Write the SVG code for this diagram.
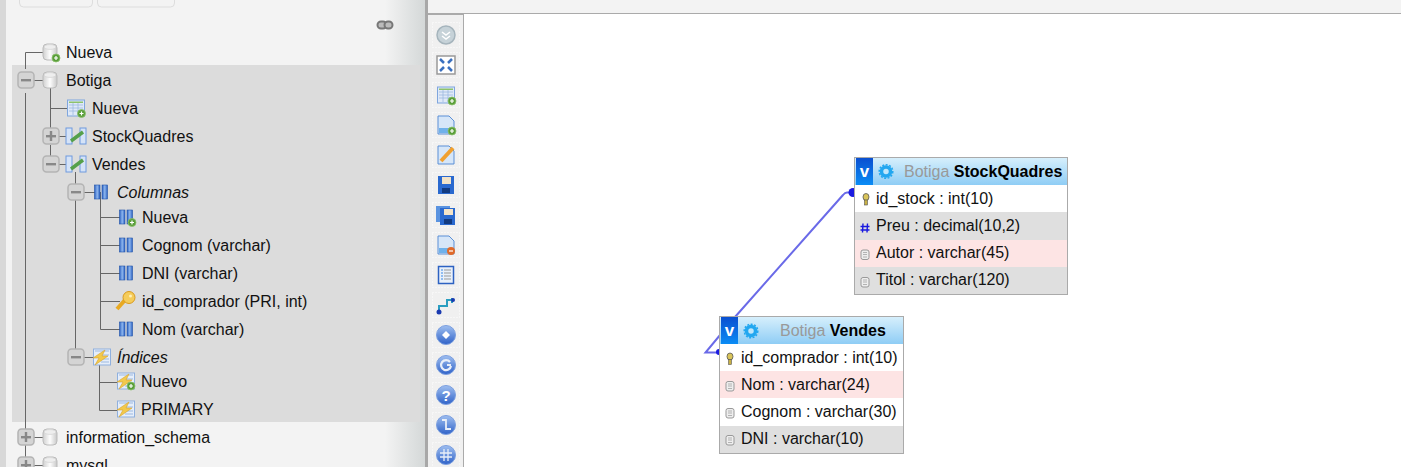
<svg xmlns="http://www.w3.org/2000/svg" width="1401" height="467" viewBox="0 0 1401 467">
<style>
text{font-family:"Liberation Sans",Arial,sans-serif;font-size:16px;fill:#111}
.it{font-style:italic}
.tree{stroke:#666;stroke-width:1;fill:none}
.r{font-size:16px}
.h{font-size:16px;fill:#999}
.b{font-weight:bold;fill:#000}
.tb{fill:none;stroke:#aaa;stroke-width:1}
.conn{stroke:#6a6ae8;stroke-width:2;fill:none}
</style>
<defs>
<linearGradient id="hdr" x1="0" y1="0" x2="0" y2="1"><stop offset="0" stop-color="#d6effc"/><stop offset="1" stop-color="#8fcdf5"/></linearGradient>
<linearGradient id="fade" x1="0" y1="0" x2="1" y2="0"><stop offset="0" stop-color="#f3f3f3"/><stop offset="1" stop-color="#d4d8d8"/></linearGradient>
<linearGradient id="blueb" x1="0" y1="0" x2="0" y2="1"><stop offset="0" stop-color="#0a4fd0"/><stop offset="1" stop-color="#0a8cf5"/></linearGradient>
<linearGradient id="orb" x1="0" y1="0" x2="0" y2="1"><stop offset="0" stop-color="#9fbff0"/><stop offset="1" stop-color="#2f62c8"/></linearGradient>
<linearGradient id="dbg" x1="0" y1="0" x2="1" y2="0"><stop offset="0" stop-color="#d0d0d0"/><stop offset=".5" stop-color="#fdfdfd"/><stop offset="1" stop-color="#c8c8c8"/></linearGradient>
<linearGradient id="colb" x1="0" y1="0" x2="1" y2="0"><stop offset="0" stop-color="#2a5fc0"/><stop offset=".5" stop-color="#8db6ee"/><stop offset="1" stop-color="#2a5fc0"/></linearGradient>
<g id="minus"><rect x="-8" y="-8" width="16" height="16" rx="3.5" fill="#d4d4d4" stroke="#b4b4b4" stroke-width="1.5"/><rect x="-5" y="-1" width="10" height="2.4" fill="#888"/></g>
<g id="plus"><use href="#minus"/><rect x="-1.2" y="-5" width="2.4" height="10" fill="#888"/></g>
<g id="db"><rect x="-7" y="-8" width="14" height="16" rx="4" fill="url(#dbg)" stroke="#bbb"/><ellipse cx="0" cy="-5" rx="6" ry="2.4" fill="#eee" stroke="#ccc" stroke-width=".6"/></g>
<g id="add"><circle r="4" fill="#5a9e3a" stroke="#8cc26c" stroke-width=".8"/><path d="M-2 0H2M0-2V2" stroke="#fff" stroke-width="1.2"/></g>
<g id="tbl"><rect x="-8.500" y="-8" width="17" height="16" fill="#dfe9f8" stroke="#7fa6de"/><rect x="-7" y="-6.500" width="14" height="1.500" fill="#8cc26c"/><path d="M-7-3H7M-7 0H7M-7 3H7M-3-5V7M2-5V7" stroke="#9db9e0" stroke-width=".8"/></g>
<g id="view"><rect x="-10" y="-8" width="6" height="16" fill="#d5e3f7" stroke="#6f9ade"/><rect x="4" y="-8" width="6" height="16" fill="#d5e3f7" stroke="#6f9ade"/><path d="M-5 5L7-4" stroke="#55a04a" stroke-width="3.500"/></g>
<g id="col"><rect x="-6.500" y="-7" width="5.500" height="14" fill="url(#colb)" stroke="#2455aa" stroke-width=".6"/><rect x="1" y="-7" width="5.500" height="14" fill="url(#colb)" stroke="#2455aa" stroke-width=".6"/></g>
<g id="idx"><rect x="-8.500" y="-8" width="17" height="16" fill="#e6eefa" stroke="#8fb0de"/><path d="M-7-6H7M-1-2H7M-1 2H7M-1 5H7" stroke="#9db9e0"/><path d="M3-7L-9 1H-3L-7 8L6-1H0Z" fill="#f2c94c" stroke="#d8a32c" stroke-width=".6"/></g>
<g id="fkey"><ellipse cx="0" cy="-2.500" rx="3" ry="3.500" fill="#d9c45a" stroke="#555" stroke-width=".8"/><rect x="-1.500" y="0.500" width="3" height="5" fill="#c8b044" stroke="#555" stroke-width=".6"/></g>
<g id="fnum"><path d="M-2.500-4.500L-3 4.500M2-4.500L1.500 4.500M-5-1.500H4M-5 2H4" stroke="#1a1ae0" stroke-width="1.400" fill="none"/></g>
<g id="ftxt"><rect x="-4" y="-4.500" width="8" height="9.500" rx="2" fill="#eee" stroke="#999"/><path d="M-2-2H2M-2 0H2M-2 2.500H2" stroke="#999" stroke-width=".7"/></g>
<g id="hv"><rect x="0" y="0" width="17" height="27" fill="url(#blueb)"/><text x="8.500" y="19" text-anchor="middle" style="font-weight:bold;font-size:17px;fill:#fff">v</text></g>
<g id="gear"><circle r="4.500" fill="#bfe6fb" stroke="#22a7f0" stroke-width="3.500"/><circle r="6.800" fill="none" stroke="#22a7f0" stroke-width="1.500" stroke-dasharray="2 1.500"/></g>
<rect id="slot" x="-13.500" y="-12.500" width="27" height="25" fill="none" stroke="#fff" stroke-dasharray="1 2"/>
<g id="orbb"><use href="#slot"/><circle r="9.500" fill="url(#orb)" stroke="#7b9fe0"/></g>
</defs>

<rect width="1401" height="467" fill="#fff"/>
<rect x="0" y="0" width="6" height="467" fill="#d8d8d8"/>
<rect x="6" y="0" width="419" height="467" fill="#f3f3f3"/>
<rect x="385" y="0" width="40" height="467" fill="url(#fade)"/>
<rect x="425" y="0" width="3" height="467" fill="#a8a8a8"/>
<rect x="428" y="0" width="973" height="13" fill="#f3f3f3"/>
<path d="M428 13.500H1401" stroke="#aaa"/>

<g id="top-buttons" fill="#f3f3f3" stroke="#ddd"><rect x="19.500" y="-8" width="73" height="15" rx="4"/><rect x="97.500" y="-8" width="77" height="15" rx="4"/></g>
<g id="link-icon" fill="#bbb" stroke="#777" stroke-width="2"><rect x="377.500" y="21.500" width="9" height="7" rx="3.500"/><rect x="384.500" y="21.500" width="8" height="7" rx="3.500"/></g>

<rect id="selected" x="12" y="65" width="408" height="357" fill="#dcdcdc"/>

<g id="tree-lines" class="tree">
<path d="M25.500 69V52.500H43M25.500 93V467M34 80.500H43M50.500 88V136M50.500 108.500H68M50.500 145V156M59 136.500H66M59 164.500H66M75.500 172V184M84 192.500H95M75.500 200V350M100.500 192V329.500H120M100.500 217.500H120M100.500 245.500H120M100.500 273.500H120M100.500 301.500H120M84 357.500H93M99.500 365V410.500H118M99.500 382.500H118M34 437.500H43M34 465.500H43"/>
</g>

<g id="tree-nueva-db"><use href="#db" x="50" y="52"/><use href="#add" x="56" y="58"/><text x="66" y="58">Nueva</text></g>
<g id="tree-botiga"><use href="#minus" x="26" y="80"/><use href="#db" x="50" y="80"/><text x="66" y="86">Botiga</text></g>
<g id="tree-nueva-tabla"><use href="#tbl" x="76" y="108"/><use href="#add" x="81.500" y="113.500"/><text x="92" y="114">Nueva</text></g>
<g id="tree-stock"><use href="#plus" x="51" y="136"/><use href="#view" x="76" y="136"/><text x="92" y="142">StockQuadres</text></g>
<g id="tree-vendes"><use href="#minus" x="51" y="164"/><use href="#view" x="76" y="164"/><text x="92" y="170">Vendes</text></g>
<g id="tree-columnas"><use href="#minus" x="76" y="192"/><use href="#col" x="101" y="192"/><text x="117" y="198" class="it">Columnas</text></g>
<g id="tree-col-nueva"><use href="#col" x="126" y="217"/><use href="#add" x="132" y="222.500"/><text x="142" y="223">Nueva</text></g>
<g id="tree-cognom"><use href="#col" x="126" y="245"/><text x="142" y="251">Cognom (varchar)</text></g>
<g id="tree-dni"><use href="#col" x="126" y="273"/><text x="142" y="279">DNI (varchar)</text></g>
<g id="tree-id"><g transform="translate(126 301)"><path d="M-9 8L-1-1" stroke="#e8a921" stroke-width="4" fill="none"/><circle cx="3" cy="-3.500" r="6" fill="#f5cc5a" stroke="#d99a1e"/><circle cx="4.500" cy="-5" r="1.500" fill="#fff0b8"/></g><text x="142" y="307">id_comprador (PRI, int)</text></g>
<g id="tree-nom"><use href="#col" x="126" y="329"/><text x="142" y="335">Nom (varchar)</text></g>
<g id="tree-indices"><use href="#minus" x="76" y="357"/><use href="#idx" x="102" y="357"/><text x="117" y="363" class="it">Índices</text></g>
<g id="tree-nuevo"><use href="#idx" x="126" y="381"/><use href="#add" x="131" y="386"/><text x="141" y="387">Nuevo</text></g>
<g id="tree-primary"><use href="#idx" x="126" y="409"/><text x="141" y="415">PRIMARY</text></g>
<g id="tree-info"><use href="#plus" x="26" y="437"/><use href="#db" x="50" y="437"/><text x="66" y="443">information_schema</text></g>
<g id="tree-mysql"><use href="#plus" x="26" y="465"/><use href="#db" x="50" y="465"/><text x="66" y="471">mysql</text></g>

<g id="toolbar">
<rect x="428" y="14" width="36" height="453" fill="#f0f0f0"/>
<path d="M463.500 14V467M428 14.500H464" stroke="#aaa" fill="none"/>
<g transform="translate(446 35)"><use href="#slot"/><circle r="9" fill="#c6d2d8" stroke="#a5b4bc" stroke-width="1.500"/><path d="M-4-3L0 0L4-3M-4 1L0 4L4 1" stroke="#fff" stroke-width="1.500" fill="none"/></g>
<g transform="translate(446 65)"><use href="#slot"/><rect x="-9" y="-9" width="18" height="18" fill="#fff" stroke="#999" stroke-width="1.500"/><path d="M-6-6L-2-2M6-6L2-2M-6 6L-2 2M6 6L2 2" stroke="#3a70c0" stroke-width="2.500"/></g>
<g transform="translate(446 95)"><use href="#slot"/><use href="#tbl"/><use href="#add" x="6" y="6"/></g>
<g transform="translate(446 125)"><use href="#slot"/><path d="M-8-9H3L8-4V9H-8Z" fill="#d6e6f8" stroke="#5b8fd6"/><rect x="-7" y="3" width="14" height="5" fill="#6fb1ea"/><use href="#add" x="6" y="6"/></g>
<g transform="translate(446 155)"><use href="#slot"/><path d="M-8-9H3L8-4V9H-8Z" fill="#d6e6f8" stroke="#5b8fd6"/><path d="M-5 6L7-7" stroke="#f0a030" stroke-width="4"/></g>
<g transform="translate(446 185)"><use href="#slot"/><rect x="-8" y="-9" width="16" height="18" fill="#2a69cf"/><rect x="-4" y="-8" width="9" height="7" fill="#f3e3c8"/><rect x="-4" y="3" width="8" height="5" fill="#123a80"/></g>
<g transform="translate(446 215)"><use href="#slot"/><rect x="-10" y="-9" width="14" height="16" fill="#5a93e0"/><rect x="-6" y="-7" width="15" height="17" fill="#2a69cf"/><rect x="-2" y="-6" width="9" height="6" fill="#f3e3c8"/><rect x="-2" y="4" width="8" height="5" fill="#123a80"/></g>
<g transform="translate(446 245)"><use href="#slot"/><path d="M-8-9H3L8-4V9H-8Z" fill="#d6e6f8" stroke="#5b8fd6"/><rect x="-7" y="3" width="14" height="5" fill="#6fb1ea"/><circle cx="5" cy="6" r="4" fill="#e06a2a"/><path d="M3 6H7" stroke="#fff" stroke-width="1.200"/></g>
<g transform="translate(446 275)"><use href="#slot"/><rect x="-7.500" y="-8.500" width="15" height="17" fill="#e8f0fa" stroke="#2d62c2" stroke-width="1.500"/><path d="M-2-5H5M-2-2H5M-2 1H5M-2 4H5" stroke="#999"/><path d="M-5-5H-3M-5-2H-3M-5 1H-3M-5 4H-3" stroke="#3a8ae8"/></g>
<g transform="translate(446 305)"><use href="#slot"/><path d="M-7 7V1H1V-5H6V-7M6-5V-2" stroke="#2a9ec0" stroke-width="2" fill="none"/><circle cx="-7" cy="7" r="2.500" fill="#1a3ab0"/><circle cx="7" cy="-5" r="2" fill="#1a3ab0"/></g>
<g transform="translate(446 335)"><use href="#orbb"/><path d="M-4 0L0-4L4 0L0 4Z" fill="#fff"/></g>
<g transform="translate(446 365)"><use href="#orbb"/><path d="M4-3A5 5 0 1 0 5 1M1 0H5" stroke="#e8eef8" stroke-width="2.200" fill="none"/></g>
<g transform="translate(446 395)"><use href="#orbb"/><text x="0" y="5.500" text-anchor="middle" style="font-weight:bold;font-size:15px;fill:#fff">?</text></g>
<g transform="translate(446 425)"><use href="#orbb"/><path d="M-4-5H0V4H5" stroke="#e8eef8" stroke-width="1.800" fill="none"/></g>
<g transform="translate(446 455)"><use href="#orbb"/><path d="M-2-6V6M2-6V6M-6-2H6M-6 2H6" stroke="#e8eef8" stroke-width="1.300"/></g>
</g>

<g id="connectors">
<path class="conn" d="M853 192.500H847Q845 192.500 843 195L735 317L705.500 352.500H720"/>
<circle cx="853" cy="192.500" r="4.500" fill="#1a1ae0"/>
<circle cx="719" cy="352" r="3" fill="#1a1ae0"/>
</g>

<g id="table-stockquadres">
<rect x="855" y="158" width="212" height="136" fill="#fff"/>
<rect x="855" y="158" width="212" height="27" fill="url(#hdr)"/>
<rect x="855" y="212" width="212" height="28" fill="#dfdfdf"/>
<rect x="855" y="240" width="212" height="27" fill="#fde4e4"/>
<rect x="855" y="267" width="212" height="27" fill="#dfdfdf"/>
<rect x="854.500" y="157.500" width="213" height="137" class="tb"/>
<use href="#hv" x="856" y="158"/>
<use href="#gear" x="886" y="171.500"/>
<text x="904" y="177" class="h">Botiga <tspan class="b">StockQuadres</tspan></text>
<use href="#fkey" x="866" y="199.500"/><text x="876" y="204" class="r">id_stock : int(10)</text>
<use href="#fnum" x="865.500" y="228"/><text x="876" y="231" class="r">Preu : decimal(10,2)</text>
<use href="#ftxt" x="865" y="254.500"/><text x="876" y="258" class="r">Autor : varchar(45)</text>
<use href="#ftxt" x="865" y="282"/><text x="876" y="285" class="r">Titol : varchar(120)</text>
</g>

<g id="table-vendes">
<rect x="720" y="317" width="183" height="136" fill="#fff"/>
<rect x="720" y="317" width="183" height="27" fill="url(#hdr)"/>
<rect x="720" y="371" width="183" height="27" fill="#fde4e4"/>
<rect x="720" y="426" width="183" height="27" fill="#dfdfdf"/>
<rect x="719.500" y="316.500" width="184" height="137" class="tb"/>
<use href="#hv" x="721" y="317"/>
<use href="#gear" x="751" y="331"/>
<text x="780" y="336" class="h">Botiga <tspan class="b">Vendes</tspan></text>
<use href="#fkey" x="730" y="359"/><text x="741" y="363" class="r">id_comprador : int(10)</text>
<use href="#ftxt" x="730" y="386"/><text x="741" y="390" class="r">Nom : varchar(24)</text>
<use href="#ftxt" x="730" y="413"/><text x="741" y="417" class="r">Cognom : varchar(30)</text>
<use href="#ftxt" x="730" y="440"/><text x="741" y="444" class="r">DNI : varchar(10)</text>
</g>
</svg>
